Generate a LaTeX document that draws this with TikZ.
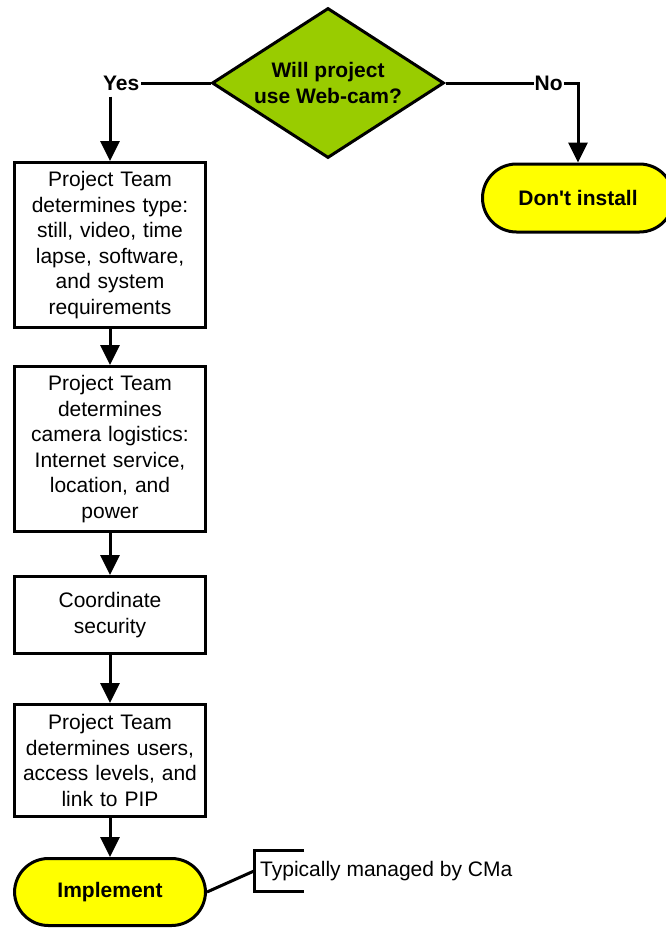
\documentclass[tikz,border=0pt]{standalone}
\usepackage{fontspec}
\setmainfont{Liberation Sans}
\usepackage{tikz}
\usetikzlibrary{shapes.geometric, arrows.meta, positioning, calc}
\definecolor{wcgreen}{RGB}{153,204,0}
\definecolor{wcyellow}{RGB}{255,255,0}

\begin{document}
\begin{tikzpicture}[x=1pt, y=-1pt, node distance=36pt,
  task/.style={rectangle, draw, line width=3pt, text width=186pt, inner xsep=2.5pt, align=center, font=\fontsize{21}{25.6}\selectfont},
  term/.style={rectangle, rounded corners=34pt, draw, line width=3pt, fill=wcyellow, minimum width=191pt, minimum height=68pt, font=\fontsize{21}{25.6}\selectfont\bfseries},
  decision/.style={diamond, aspect=1.55, draw, line width=3pt, fill=wcgreen, minimum width=232pt, minimum height=150pt, inner sep=0pt, align=center, font=\fontsize{21}{25.6}\selectfont\bfseries},
  lbl/.style={inner sep=1pt, font=\fontsize{21}{25.6}\selectfont\bfseries},
  line/.style={line width=3pt},
  arrow/.style={-{Triangle[length=20pt, width=19pt]}, line width=3pt}
]
\useasboundingbox (0,0) rectangle (666,930);
\node[decision] (q) at (328,83) {Will project\\use Web-cam?};
\node[lbl, left=70pt of q] (yes) {Yes};
\node[lbl, right=88pt of q] (no) {No};
\node[term] (skip) at (578,198) {Don\textquotesingle t install};
\node[task, minimum height=165pt] (type) at (110,245) {Project Team\\determines type:\\still, video, time\\lapse, software,\\and system\\requirements};
\node[task, minimum height=165pt, below=36pt of type] (logi) {Project Team\\determines\\camera logistics:\\Internet service,\\location, and\\power};
\node[task, minimum height=77pt, below=42pt of logi] (secu) {Coordinate\\security};
\node[task, minimum height=112pt, below=48pt of secu] (users) {Project Team\\determines users,\\access levels, and\\link to PIP};
\node[term, minimum height=67pt, below=39pt of users] (impl) {Implement};
\draw[line] (q.west) -- (yes.east);
\draw[arrow, shorten <=5pt] (yes.south -| type.north) -- (type.north);
\draw[line] (q.east) -- (no.west);
\draw[arrow] (no.east) -| (skip.north);
\draw[arrow] (type) -- (logi);
\draw[arrow] (logi) -- (secu);
\draw[arrow] (secu) -- (users);
\draw[arrow] (users) -- (impl);
% Note
\node[anchor=west, minimum height=40pt, inner xsep=6pt, font=\fontsize{21}{25.6}\selectfont] (note) at (254,871) {Typically managed by CMa};
\draw[line] (impl.east) -- (note.west);
\draw[line] ([xshift=50pt]note.north west) -- (note.north west) -- (note.south west) -- ([xshift=50pt]note.south west);
\end{tikzpicture}
\end{document}
